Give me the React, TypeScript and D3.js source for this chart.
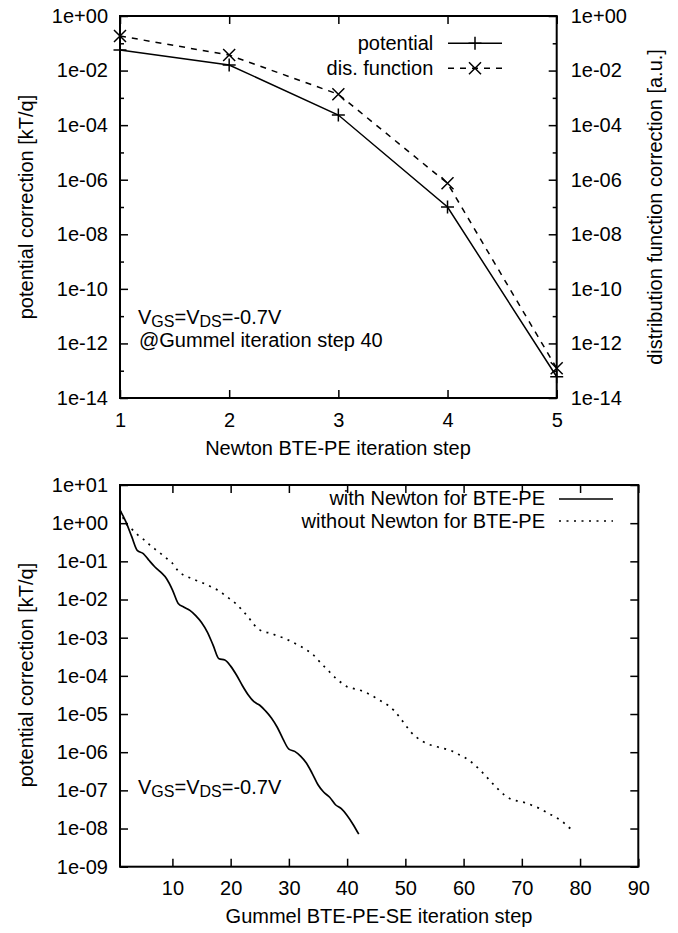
import React, { useEffect, useRef } from 'react'
import { axisBottom, axisLeft, axisRight, axisTop, curveMonotoneX, line, scaleLinear, scaleLog, select } from 'd3'

const FONT = '"Liberation Sans", Arial, Helvetica, sans-serif'

// upper panel: Newton BTE-PE iteration steps
const newtonSteps = [1, 2, 3, 4, 5]
const potentialCorr = [5.7e-2, 1.6e-2, 2.35e-4, 1.0e-7, 6.0e-14]
const distFuncCorr = [1.85e-1, 3.7e-2, 1.35e-3, 7.4e-7, 1.23e-13]
const topYMajor = [1e0, 1e-2, 1e-4, 1e-6, 1e-8, 1e-10, 1e-12, 1e-14]
const topYMinor = [1e-1, 1e-3, 1e-5, 1e-7, 1e-9, 1e-11, 1e-13]

// lower panel: potential correction per Gummel step (step = index + 1)
const withNewton = [
  2.2, 1.1, 4.5e-1, 1.9e-1, 1.6e-1, 1.05e-1, 7.1e-2, 5.2e-2, 3.5e-2, 1.8e-2,
  7.9e-3, 6.3e-3, 5.2e-3, 3.8e-3, 2.5e-3, 1.4e-3, 6.3e-4, 2.8e-4, 2.6e-4, 1.8e-4,
  1.05e-4, 5.6e-5, 3.2e-5, 2.1e-5, 1.7e-5, 1.2e-5, 7.9e-6, 4.5e-6, 2.2e-6, 1.2e-6,
  1.05e-6, 7.9e-7, 5.2e-7, 2.8e-7, 1.4e-7, 8.9e-8, 6.6e-8, 4.2e-8, 3.3e-8, 2.2e-8,
  1.3e-8, 7.1e-9,
]
const withoutNewton = [
  2.2, 1.0, 7.1e-1, 5.0e-1, 3.8e-1, 2.8e-1, 2.1e-1, 1.6e-1, 1.2e-1, 8.9e-2,
  5.6e-2, 4.3e-2, 3.7e-2, 3.2e-2, 2.8e-2, 2.4e-2, 2.0e-2, 1.7e-2, 1.3e-2, 1.0e-2,
  7.6e-3, 5.2e-3, 3.5e-3, 2.2e-3, 1.6e-3, 1.4e-3, 1.3e-3, 1.1e-3, 1.0e-3, 8.5e-4,
  7.1e-4, 6.0e-4, 4.8e-4, 3.8e-4, 2.6e-4, 1.8e-4, 1.26e-4, 8.9e-5, 6.6e-5, 5.2e-5,
  4.7e-5, 4.3e-5, 3.8e-5, 3.2e-5, 2.6e-5, 2.1e-5, 1.7e-5, 1.26e-5, 8.3e-6, 5.2e-6,
  3.3e-6, 2.4e-6, 1.9e-6, 1.6e-6, 1.45e-6, 1.3e-6, 1.2e-6, 1.07e-6, 8.9e-7, 7.6e-7,
  6.0e-7, 4.5e-7, 3.2e-7, 2.2e-7, 1.5e-7, 1.05e-7, 7.6e-8, 6.0e-8, 5.4e-8, 5.0e-8,
  4.5e-8, 3.9e-8, 3.4e-8, 2.8e-8, 2.3e-8, 1.9e-8, 1.5e-8, 1.1e-8, 8.3e-9,
]
const botXTicks = [10, 20, 30, 40, 50, 60, 70, 80, 90]
const botYTicks = [1e1, 1e0, 1e-1, 1e-2, 1e-3, 1e-4, 1e-5, 1e-6, 1e-7, 1e-8, 1e-9]

const fmtExp = (v: number) => {
  const e = Math.round(Math.log10(v))
  return `1e${e < 0 ? '-' : '+'}${String(Math.abs(e)).padStart(2, '0')}`
}

// strip d3 defaults so the axis looks like gnuplot
const dress = (g: any) => {
  g.select('.domain').remove()
  g.attr('font-family', FONT).attr('font-size', 20)
  g.selectAll('line').attr('stroke', '#000').attr('stroke-width', 1.5)
  g.selectAll('text').attr('fill', '#000')
}

const plus = (x: number, y: number, r = 6.5) => `M${x - r},${y}h${2 * r}M${x},${y - r}v${2 * r}`
const cross = (x: number, y: number, r = 6) => `M${x - r},${y - r}l${2 * r},${2 * r}M${x - r},${y + r}l${2 * r},${-2 * r}`

const App = () => {
  const topRef = useRef<SVGGElement>(null)
  const botRef = useRef<SVGGElement>(null)

  useEffect(() => {
    // ---------- upper panel ----------
    const svg = select(topRef.current)
    svg.selectAll('*').remove()
    const x = scaleLinear().domain([1, 5]).range([120, 556.7])
    const y = scaleLog().domain([1e-14, 1]).range([398, 16])

    svg.append('g').attr('transform', 'translate(0,398)')
      .call(axisBottom(x).tickValues(newtonSteps).tickFormat((d: any) => String(d)).tickSize(-8).tickPadding(14.5))
      .call(dress)
    svg.append('g').attr('transform', 'translate(0,16)')
      .call(axisTop(x).tickValues(newtonSteps).tickFormat(() => '').tickSize(-8))
      .call(dress)
    svg.append('g').attr('transform', 'translate(120,0)')
      .call(axisLeft(y).tickValues(topYMajor).tickFormat(fmtExp as any).tickSize(-8).tickPadding(12))
      .call(dress)
    svg.append('g').attr('transform', 'translate(120,0)')
      .call(axisLeft(y).tickValues(topYMinor).tickFormat(() => '').tickSize(-4))
      .call(dress)
    svg.append('g').attr('transform', 'translate(556.7,0)')
      .call(axisRight(y).tickValues(topYMajor).tickFormat(fmtExp as any).tickSize(-8).tickPadding(14))
      .call(dress)
    svg.append('g').attr('transform', 'translate(556.7,0)')
      .call(axisRight(y).tickValues(topYMinor).tickFormat(() => '').tickSize(-4))
      .call(dress)

    const lin = line<number>().x((d, i) => x(newtonSteps[i])).y((d) => y(d))
    svg.append('path').attr('d', lin(potentialCorr)).attr('fill', 'none')
      .attr('stroke', '#000').attr('stroke-width', 1.5)
    svg.append('path').attr('d', lin(distFuncCorr)).attr('fill', 'none')
      .attr('stroke', '#000').attr('stroke-width', 1.5).attr('stroke-dasharray', '6,6')
    svg.append('path').attr('d', potentialCorr.map((d, i) => plus(x(newtonSteps[i]), y(d))).join(''))
      .attr('stroke', '#000').attr('stroke-width', 1.5)
    svg.append('path').attr('d', distFuncCorr.map((d, i) => cross(x(newtonSteps[i]), y(d))).join(''))
      .attr('stroke', '#000').attr('stroke-width', 1.5)

    // legend samples
    svg.append('line').attr('x1', 448).attr('x2', 502).attr('y1', 43.3).attr('y2', 43.3)
      .attr('stroke', '#000').attr('stroke-width', 1.5)
    svg.append('path').attr('d', plus(475, 43.3)).attr('stroke', '#000').attr('stroke-width', 1.5)
    svg.append('line').attr('x1', 448).attr('x2', 502).attr('y1', 68.3).attr('y2', 68.3)
      .attr('stroke', '#000').attr('stroke-width', 1.5).attr('stroke-dasharray', '6,6')
    svg.append('path').attr('d', cross(475, 68.3)).attr('stroke', '#000').attr('stroke-width', 1.5)

    svg.append('rect').attr('x', 120).attr('y', 16).attr('width', 436.7).attr('height', 382)
      .attr('fill', 'none').attr('stroke', '#000').attr('stroke-width', 2)

    // ---------- lower panel ----------
    const g = select(botRef.current)
    g.selectAll('*').remove()
    const bx = scaleLinear().domain([1, 90]).range([120, 638.3])
    const by = scaleLog().domain([1e-9, 10]).range([866.7, 485])

    g.append('g').attr('transform', 'translate(0,866.7)')
      .call(axisBottom(bx).tickValues(botXTicks).tickFormat((d: any) => String(d)).tickSize(-8).tickPadding(14.5))
      .call(dress)
    g.append('g').attr('transform', 'translate(0,485)')
      .call(axisTop(bx).tickValues(botXTicks).tickFormat(() => '').tickSize(-8))
      .call(dress)
    g.append('g').attr('transform', 'translate(120,0)')
      .call(axisLeft(by).tickValues(botYTicks).tickFormat(fmtExp as any).tickSize(-8).tickPadding(12))
      .call(dress)
    g.append('g').attr('transform', 'translate(638.3,0)')
      .call(axisRight(by).tickValues(botYTicks).tickFormat(() => '').tickSize(-8))
      .call(dress)

    const smooth = line<number>().x((d, i) => bx(i + 1)).y((d) => by(d)).curve(curveMonotoneX)
    g.append('path').attr('d', smooth(withNewton)).attr('fill', 'none')
      .attr('stroke', '#000').attr('stroke-width', 1.7)
    g.append('path').attr('d', smooth(withoutNewton)).attr('fill', 'none')
      .attr('stroke', '#000').attr('stroke-width', 1.7).attr('stroke-dasharray', '2,5.5')

    g.append('line').attr('x1', 559).attr('x2', 613).attr('y1', 499).attr('y2', 499)
      .attr('stroke', '#000').attr('stroke-width', 1.7)
    g.append('line').attr('x1', 559).attr('x2', 613).attr('y1', 521).attr('y2', 521)
      .attr('stroke', '#000').attr('stroke-width', 1.7).attr('stroke-dasharray', '2,5.5')

    g.append('rect').attr('x', 120).attr('y', 485).attr('width', 518.3).attr('height', 381.7)
      .attr('fill', 'none').attr('stroke', '#000').attr('stroke-width', 2)
  }, [])

  return (
    <svg width={678} height={933} style={{ position: 'absolute', left: 0, top: 0, background: '#fff' }}
      fontFamily={FONT} fontSize={20} fill="#000">
      <g ref={topRef} />
      <g ref={botRef} />

      {/* upper panel texts */}
      <text transform="translate(33,207) rotate(-90)" textAnchor="middle">potential correction [kT/q]</text>
      <text transform="translate(662,207) rotate(-90)" textAnchor="middle">distribution function correction [a.u.]</text>
      <text x={338} y={455} textAnchor="middle">Newton BTE-PE iteration step</text>
      <text x={433.3} y={49.5} textAnchor="end">potential</text>
      <text x={433.3} y={74.5} textAnchor="end">dis. function</text>
      <text x={138} y={323.5}>
        V<tspan fontSize={16} dy={3.5}>GS</tspan><tspan dy={-3.5}>=V</tspan>
        <tspan fontSize={16} dy={3.5}>DS</tspan><tspan dy={-3.5}>=-0.7V</tspan>
      </text>
      <text x={139} y={347}>@Gummel iteration step 40</text>

      {/* lower panel texts */}
      <text transform="translate(33,675) rotate(-90)" textAnchor="middle">potential correction [kT/q]</text>
      <text x={379} y={923} textAnchor="middle">Gummel BTE-PE-SE iteration step</text>
      <text x={545} y={505} textAnchor="end">with Newton for BTE-PE</text>
      <text x={545} y={527.5} textAnchor="end">without Newton for BTE-PE</text>
      <text x={138} y={793.5}>
        V<tspan fontSize={16} dy={3.5}>GS</tspan><tspan dy={-3.5}>=V</tspan>
        <tspan fontSize={16} dy={3.5}>DS</tspan><tspan dy={-3.5}>=-0.7V</tspan>
      </text>
    </svg>
  )
}

export default App
